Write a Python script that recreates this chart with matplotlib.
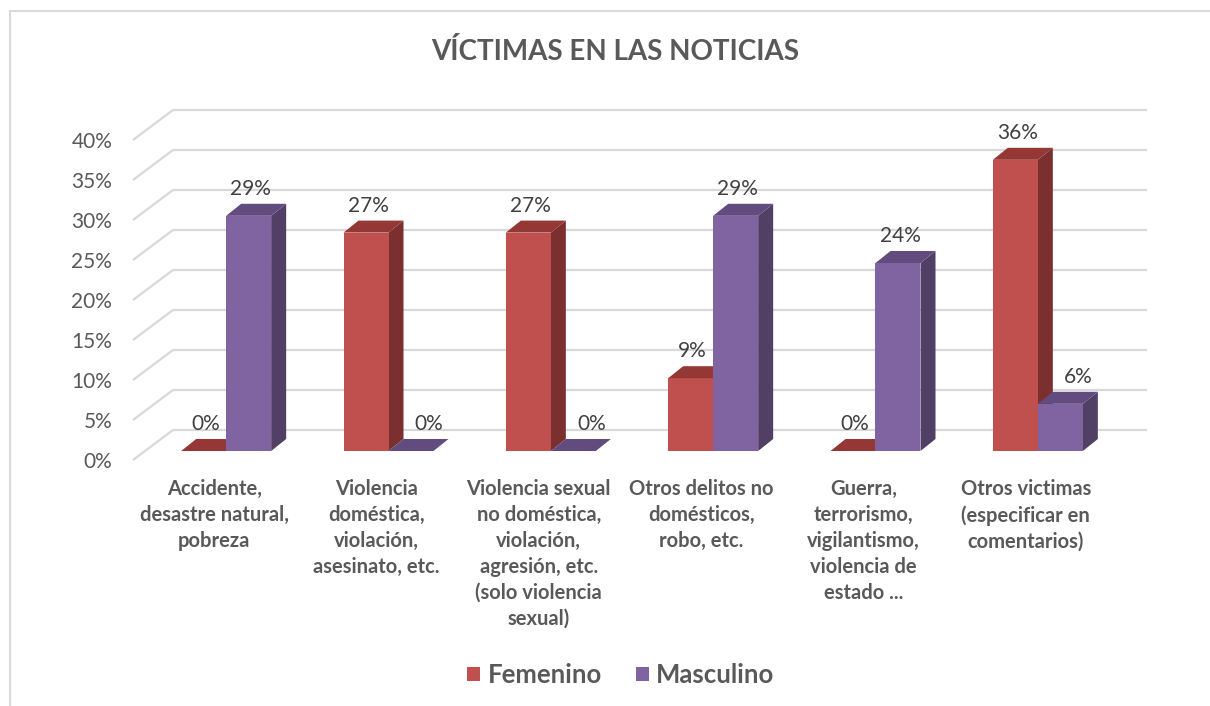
import matplotlib
matplotlib.use("Agg")
import matplotlib.pyplot as plt
from matplotlib.patches import Polygon, Patch
from matplotlib.lines import Line2D
import matplotlib.transforms as mtransforms

plt.rcParams['font.family'] = ['Lato', 'DejaVu Sans']

# ---------------- data ----------------
categories = [
    "Accidente,\ndesastre natural,\npobreza",
    "Violencia\ndoméstica,\nviolación,\nasesinato, etc.",
    "Violencia sexual\nno doméstica,\nviolación,\nagresión, etc.\n(solo violencia\nsexual)",
    "Otros delitos no\ndomésticos,\nrobo, etc.",
    "Guerra,\nterrorismo,\nvigilantismo,\nviolencia de\nestado ...",
    "Otros victimas\n(especificar en\ncomentarios)",
]
series_names = ["Femenino", "Masculino"]
femenino = [0, 27.3, 27.3, 9.1, 0, 36.4]
masculino = [29.4, 0, 0, 29.4, 23.5, 5.9]
yticks = [0, 5, 10, 15, 20, 25, 30, 35, 40]
ytick_labels = ["0%", "5%", "10%", "15%", "20%", "25%", "30%", "35%", "40%"]
title = "VÍCTIMAS EN LAS NOTICIAS"

# ---------------- style ----------------
W, H, DPI = 1210, 706, 100
front_cols = ["#C0504D", "#8064A2"]
top_cols = ["#943735", "#624B7E"]
side_cols = ["#7B2F2E", "#523F66"]
grid_col = "#D9D9D9"
text_col = "#595959"
label_col = "#404040"

fig = plt.figure(figsize=(W / DPI, H / DPI), dpi=DPI)
ax_l, ax_r, ax_b, ax_t = 133, 1107, 460, 140  # pixel frame of the front plane
ax = fig.add_axes([ax_l / W, 1 - ax_b / H, (ax_r - ax_l) / W, (ax_b - ax_t) / H])
n = len(categories)
ax.set_xlim(-0.5, n - 0.5)
ax.set_ylim(0, 40)
for s in ax.spines.values():
    s.set_visible(False)
ax.set_xticks([])
ax.set_yticks(yticks)
ax.set_yticklabels(ytick_labels, fontsize=15, color=text_col)
ax.tick_params(axis="y", length=0, pad=15)
ax.patch.set_alpha(0)

px_x = (ax_r - ax_l) / n          # pixels per x unit
px_y = (ax_b - ax_t) / 40.0       # pixels per y unit


def dxu(p):
    return p / px_x


def dyu(p):
    return p / px_y


# depth geometry (pixels)
wall = (40, 30)
bfront = (12, 9)
bback = (27, 21)

# back wall gridlines + side diagonals
for v in yticks:
    ax.plot([-0.5 + dxu(wall[0]), n - 0.5 + dxu(wall[0])],
            [v + dyu(wall[1])] * 2, color=grid_col, lw=1.6, zorder=0, clip_on=False,
            solid_capstyle="butt")
    ax.plot([-0.5, -0.5 + dxu(wall[0])], [v, v + dyu(wall[1])],
            color=grid_col, lw=1.6, zorder=0, clip_on=False, solid_capstyle="butt")

bw = dxu(45)
series = [femenino, masculino]
ddx = dxu(bback[0] - bfront[0])
ddy = dyu(bback[1] - bfront[1])
z = 2
for i in range(n):
    for k, vals in enumerate(series):
        v = vals[i]
        x0 = i - bw + k * bw + dxu(bfront[0])
        y0 = dyu(bfront[1])
        x1 = x0 + bw
        y1 = y0 + v
        side = Polygon([(x1, y0), (x1 + ddx, y0 + ddy), (x1 + ddx, y1 + ddy), (x1, y1)],
                       closed=True, facecolor=side_cols[k], edgecolor="none",
                       zorder=z, clip_on=False)
        ax.add_patch(side)
        if v > 0:
            ax.bar(x0, v, width=bw, bottom=y0, align="edge", color=front_cols[k],
                   edgecolor="none", zorder=z + 0.1, clip_on=False)
        top = Polygon([(x0, y1), (x1, y1), (x1 + ddx, y1 + ddy), (x0 + ddx, y1 + ddy)],
                      closed=True, facecolor=top_cols[k], edgecolor="none",
                      zorder=z + 0.2, clip_on=False)
        ax.add_patch(top)
        # label placement: shift right when the taller neighbour on the left would hide it
        lx = x0 + bw / 2 + dxu(2)
        if k > 0 and series[k - 1][i] > v + 3:
            lx = x0 + bw / 2 + ddx + dxu(3)
        ax.text(lx, y1 + ddy + dyu(5), f"{v:.0f}%", ha="center", va="bottom",
                fontsize=15, color=label_col, zorder=100, clip_on=False)
        z += 1

# category labels
trans = mtransforms.blended_transform_factory(ax.transData, ax.transAxes)
for i, c in enumerate(categories):
    ax.text(i, -(479 - ax_b) / (ax_b - ax_t), c, transform=trans, ha="center", va="top",
            fontsize=14.5, fontweight="bold", color=text_col, linespacing=1.37)

# title
fig.text(615 / W, 1 - 52 / H, title, ha="center", va="center", fontsize=20,
         fontweight="bold", color=text_col)

# legend
handles = [Patch(facecolor=front_cols[0], edgecolor="none"),
           Patch(facecolor=front_cols[1], edgecolor="none")]
leg = fig.legend(handles, series_names, loc="center", bbox_to_anchor=(621 / W, 1 - 675 / H),
                 ncol=2, frameon=False, handlelength=0.5, handleheight=0.5,
                 handletextpad=0.3, columnspacing=1.3,
                 prop={"size": 18.5, "weight": "bold"})
for t in leg.get_texts():
    t.set_color(text_col)

# chart area border (left and top visible)
fig.add_artist(Line2D([10 / W, 10 / W], [0, 1 - 11 / H], transform=fig.transFigure,
                      color=grid_col, lw=1.5))
fig.add_artist(Line2D([10 / W, 1], [1 - 11 / H, 1 - 11 / H], transform=fig.transFigure,
                      color=grid_col, lw=1.5))

fig.savefig("out.png", dpi=DPI, facecolor="white")
